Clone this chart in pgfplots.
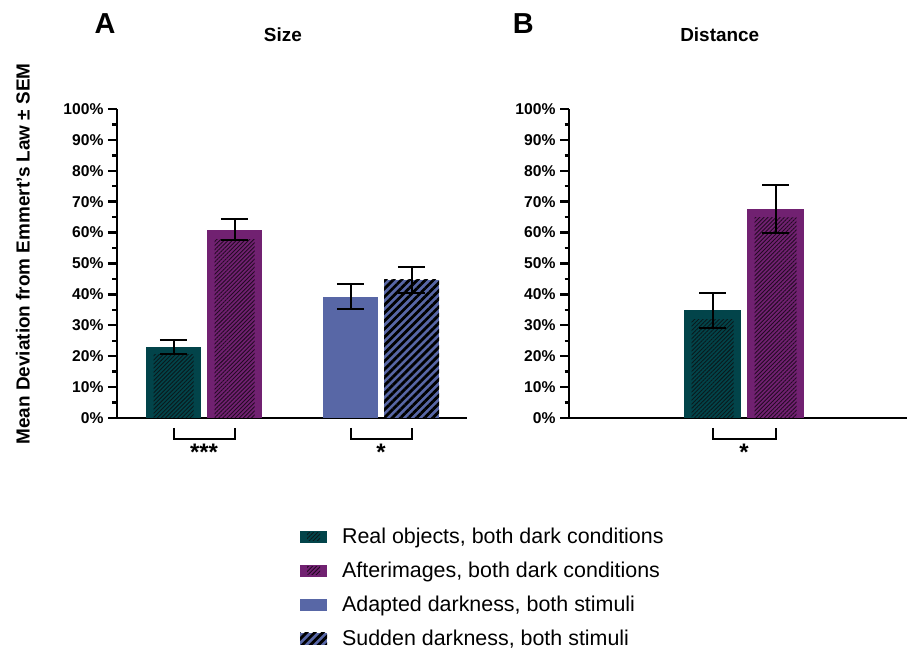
\documentclass[border=0pt]{standalone}
\usepackage{pgfplots}
\pgfplotsset{compat=1.18}
\usetikzlibrary{patterns.meta}
\usepackage{fontspec}
\setmainfont{Liberation Sans}
\definecolor{cteal}{RGB}{2,68,74}
\definecolor{cpurple}{RGB}{113,33,113}
\definecolor{cblue}{RGB}{88,103,166}
\definecolor{thatch}{RGB}{10,25,28}
\definecolor{phatch}{RGB}{35,10,35}
\tikzset{
  finehatch/.style={draw=none, pattern={Lines[angle=45,distance=2.9bp,line width=0.9bp]}, pattern color=#1},
  thickhatch/.style={draw=none, pattern={Lines[angle=45,distance=5.7bp,line width=2.8bp]}, pattern color=black},
}
\pgfplotsset{
  panel/.style={
    scale only axis, height=309bp, ymin=0, ymax=100,
    axis x line*=bottom, axis y line*=left,
    axis line style={line width=2.8bp, black},
    xtick=\empty,
    ytick={0,10,...,100}, minor y tick num=1,
    yticklabel={\pgfmathprintnumber{\tick}\%},
    yticklabel style={font=\fontsize{15.7}{15.7}\selectfont\bfseries, xshift=-1bp},
    /pgf/number format/assume math mode=true,
    tick align=outside,
    major tick length=9bp, minor tick length=4.5bp,
    every tick/.style={line width=2.4bp, black},
    clip=false,
    bar shift=0pt,
  },
  errs/.style={forget plot, ybar, bar width=10, draw=none, fill=none,
    error bars/.cd, y dir=both, y explicit,
    error bar style={draw=black, line width=2bp},
    error mark options={draw=black, rotate=90, mark size=13.5bp, line width=2bp}},
}
\begin{document}
\begin{tikzpicture}
\path[use as bounding box] (0,0) rectangle (909bp,649bp);
% ---------- Panel A ----------
\begin{axis}[panel, width=350bp, xmin=0, xmax=350,
  at={(117bp,231bp)}, anchor=south west,
  ylabel={Mean Deviation from Emmert's Law ± SEM},
  every axis y label/.style={at={(axis description cs:-0.269,0.531)}, rotate=90, anchor=center,
    font=\fontsize{19}{19}\selectfont\bfseries},
  legend style={at={(axis description cs:0.514,-0.343)}, anchor=north west, draw=none, fill=none,
    font=\fontsize{21.5}{21.5}\selectfont, row sep=13bp, cells={anchor=west}},
  legend cell align=left,
]
% solid bars
\addplot[forget plot, ybar, bar width=55, fill=cteal, draw=none] coordinates {(56.5,23.0)};
\addplot[forget plot, ybar, bar width=55, fill=cpurple, draw=none] coordinates {(117.5,61.0)};
\addplot[forget plot, ybar, bar width=55, fill=cblue, draw=none] coordinates {(233.5,39.3)};
\addplot[forget plot, ybar, bar width=55, fill=cblue, draw=none] coordinates {(294.5,44.7)};
% hatching
\addplot[forget plot, ybar, bar width=55, thickhatch] coordinates {(294.5,44.7)};
\addplot[forget plot, ybar, bar width=40, finehatch=thatch] coordinates {(56.5,20.7)};
\addplot[forget plot, ybar, bar width=40, finehatch=phatch] coordinates {(117.5,57.9)};
% error bars
\addplot[errs] coordinates {(56.5,23.0) +- (0,2.2) (117.5,61.0) +- (0,3.3) (233.5,39.3) +- (0,4.0) (294.5,44.7) +- (0,4.3)};
% brackets
\draw[line width=2bp] (axis cs:56.5,-3.2) -- (axis cs:56.5,-6.8) -- (axis cs:117.5,-6.8) -- (axis cs:117.5,-3.2);
\draw[line width=2bp] (axis cs:233.5,-3.2) -- (axis cs:233.5,-6.8) -- (axis cs:294.5,-6.8) -- (axis cs:294.5,-3.2);
\node[font=\fontsize{24}{24}\selectfont\bfseries] at (axis cs:87,-11.2) {***};
\node[font=\fontsize{24}{24}\selectfont\bfseries] at (axis cs:264,-11.2) {*};
\node[font=\fontsize{19}{19}\selectfont\bfseries] at (axis description cs:0.474,1.239) {Size};
\node[font=\fontsize{29}{29}\selectfont\bfseries] at (axis description cs:-0.034,1.278) {A};
% legend
\addlegendimage{legend image code/.code={\fill[cteal,draw=none] (0bp,-6bp) rectangle (27bp,6bp); \path[finehatch=thatch] (7bp,-4bp) rectangle (20bp,4bp); \path[draw=none] (0bp,0bp) -- (40bp,0bp);}}
\addlegendentry{Real objects, both dark conditions}
\addlegendimage{legend image code/.code={\fill[cpurple,draw=none] (0bp,-6bp) rectangle (27bp,6bp); \path[finehatch=phatch] (7bp,-4bp) rectangle (20bp,4bp); \path[draw=none] (0bp,0bp) -- (40bp,0bp);}}
\addlegendentry{Afterimages, both dark conditions}
\addlegendimage{legend image code/.code={\fill[cblue,draw=none] (0bp,-6bp) rectangle (27bp,6bp); \path[draw=none] (0bp,0bp) -- (40bp,0bp);}}
\addlegendentry{Adapted darkness, both stimuli}
\addlegendimage{legend image code/.code={\fill[cblue,draw=none] (0bp,-6bp) rectangle (27bp,6bp); \path[thickhatch] (0bp,-6bp) rectangle (27bp,6bp); \path[draw=none] (0bp,0bp) -- (40bp,0bp);}}
\addlegendentry{Sudden darkness, both stimuli}
\end{axis}
% ---------- Panel B ----------
\begin{axis}[panel, width=338bp, xmin=0, xmax=338,
  at={(569bp,231bp)}, anchor=south west]
\addplot[forget plot, ybar, bar width=57, fill=cteal, draw=none] coordinates {(143.5,34.8)};
\addplot[forget plot, ybar, bar width=57, fill=cpurple, draw=none] coordinates {(206.5,67.7)};
\addplot[forget plot, ybar, bar width=42, finehatch=thatch] coordinates {(143.5,32.0)};
\addplot[forget plot, ybar, bar width=42, finehatch=phatch] coordinates {(206.5,65.0)};
\addplot[errs] coordinates {(143.5,34.8) +- (0,5.6) (206.5,67.7) +- (0,7.8)};
\draw[line width=2bp] (axis cs:143.5,-3.2) -- (axis cs:143.5,-6.8) -- (axis cs:206.5,-6.8) -- (axis cs:206.5,-3.2);
\node[font=\fontsize{24}{24}\selectfont\bfseries] at (axis cs:175,-11.2) {*};
\node[font=\fontsize{19}{19}\selectfont\bfseries] at (axis description cs:0.446,1.239) {Distance};
\node[font=\fontsize{29}{29}\selectfont\bfseries] at (axis description cs:-0.135,1.278) {B};
\end{axis}
\end{tikzpicture}
\end{document}
